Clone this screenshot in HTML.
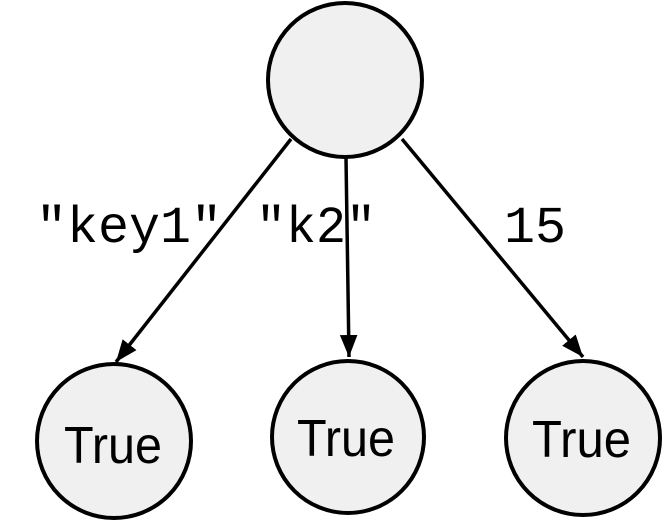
<!DOCTYPE html>
<html><head><meta charset="utf-8"><style>
html,body{margin:0;padding:0;background:#fff;}
svg{display:block}
</style></head><body>
<svg width="669" height="523" viewBox="0 0 669 523" xmlns="http://www.w3.org/2000/svg">
<defs>
<marker id="b" viewBox="0 0 20 20" refX="20" refY="10" markerWidth="22" markerHeight="22" orient="auto" markerUnits="userSpaceOnUse"><path d="M0,2 L20,10 L0,18 z" fill="#000"/></marker></defs>
<g stroke="#000" stroke-width="4" fill="#f0f0f0">
<circle cx="345" cy="80" r="77"/>
<circle cx="114" cy="441" r="77"/>
<circle cx="348" cy="437" r="76"/>
<circle cx="583" cy="438" r="77"/>
</g>
<g stroke="#000" stroke-width="3.5" fill="none">
<line x1="291" y1="139" x2="116" y2="362" marker-end="url(#b)"/>
<line x1="346" y1="158" x2="349" y2="357" marker-end="url(#b)"/>
<line x1="402" y1="139" x2="583" y2="357" marker-end="url(#b)"/>
</g>
<g font-family="'Liberation Mono', monospace" font-size="52" fill="#000">
<text x="36" y="242" textLength="186" lengthAdjust="spacingAndGlyphs">"key1"</text>
<text x="256" y="242" textLength="120" lengthAdjust="spacingAndGlyphs">"k2"</text>
<text x="504" y="242" textLength="62" lengthAdjust="spacingAndGlyphs">15</text>
</g>
<g font-family="'Liberation Sans', sans-serif" font-size="52" fill="#000">
<text x="64" y="463" textLength="98" lengthAdjust="spacingAndGlyphs">True</text>
<text x="297" y="456" textLength="98" lengthAdjust="spacingAndGlyphs">True</text>
<text x="532" y="457" textLength="99" lengthAdjust="spacingAndGlyphs">True</text>
</g>
</svg>
</body></html>
